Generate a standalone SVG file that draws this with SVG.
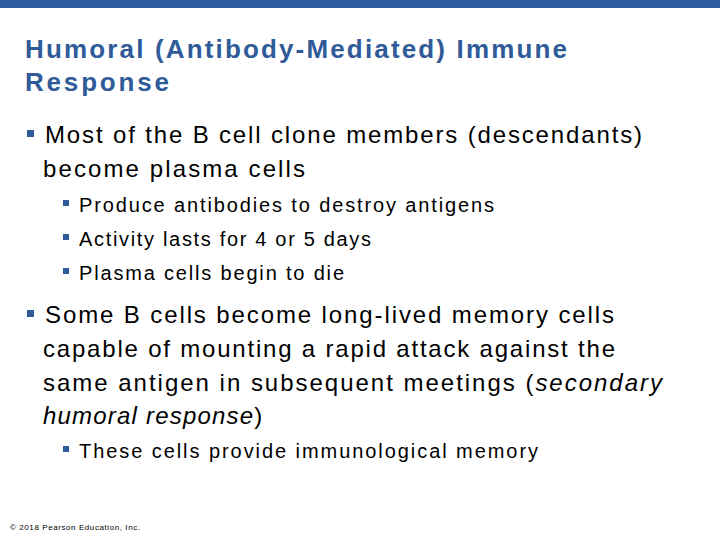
<svg xmlns="http://www.w3.org/2000/svg" width="720" height="540" viewBox="0 0 720 540">
<style>
.t{font-family:"Liberation Sans",Arial,sans-serif;font-weight:bold;font-size:26px;fill:#2F5B98}
.l1{font-family:"Liberation Sans",Arial,sans-serif;font-size:24px;fill:#000}
.l2{font-family:"Liberation Sans",Arial,sans-serif;font-size:20px;fill:#000}
.b{fill:#2F5B98}
</style>
<rect width="720" height="540" fill="#fff"/>
<rect x="0" y="0" width="720" height="8" fill="#2E5C9E"/>
<g id="title">
<text class="t" x="25" y="58" textLength="542" lengthAdjust="spacing">Humoral (Antibody-Mediated) Immune</text>
<text class="t" x="25" y="91" textLength="144" lengthAdjust="spacing">Response</text>
</g>
<g id="body">
<rect class="b" x="27" y="130" width="7" height="7"/>
<text class="l1" x="45" y="143" textLength="597" lengthAdjust="spacing">Most of the B cell clone members (descendants)</text>
<text class="l1" x="43" y="177" textLength="262" lengthAdjust="spacing">become plasma cells</text>
<rect class="b" x="63" y="200" width="6" height="6"/>
<text class="l2" x="79" y="212" textLength="415" lengthAdjust="spacing">Produce antibodies to destroy antigens</text>
<rect class="b" x="63" y="234" width="6" height="6"/>
<text class="l2" x="79" y="246" textLength="292" lengthAdjust="spacing">Activity lasts for 4 or 5 days</text>
<rect class="b" x="63" y="268" width="6" height="6"/>
<text class="l2" x="79" y="280" textLength="265" lengthAdjust="spacing">Plasma cells begin to die</text>
<rect class="b" x="27" y="310" width="7" height="7"/>
<text class="l1" x="45" y="323" textLength="569" lengthAdjust="spacing">Some B cells become long-lived memory cells</text>
<text class="l1" x="43" y="357" textLength="572" lengthAdjust="spacing">capable of mounting a rapid attack against the</text>
<text class="l1" x="43" y="391" textLength="619" lengthAdjust="spacing">same antigen in subsequent meetings (<tspan font-style="italic">secondary</tspan></text>
<text class="l1" x="43" y="424" letter-spacing="1.2"><tspan font-style="italic">humoral response</tspan>)</text>
<rect class="b" x="63" y="446" width="6" height="6"/>
<text class="l2" x="79" y="458" textLength="459" lengthAdjust="spacing">These cells provide immunological memory</text>
</g>
<text x="10" y="530" font-family="Liberation Sans,Arial,sans-serif" font-size="8" fill="#000" textLength="130" lengthAdjust="spacing">© 2018 Pearson Education, Inc.</text>
</svg>
